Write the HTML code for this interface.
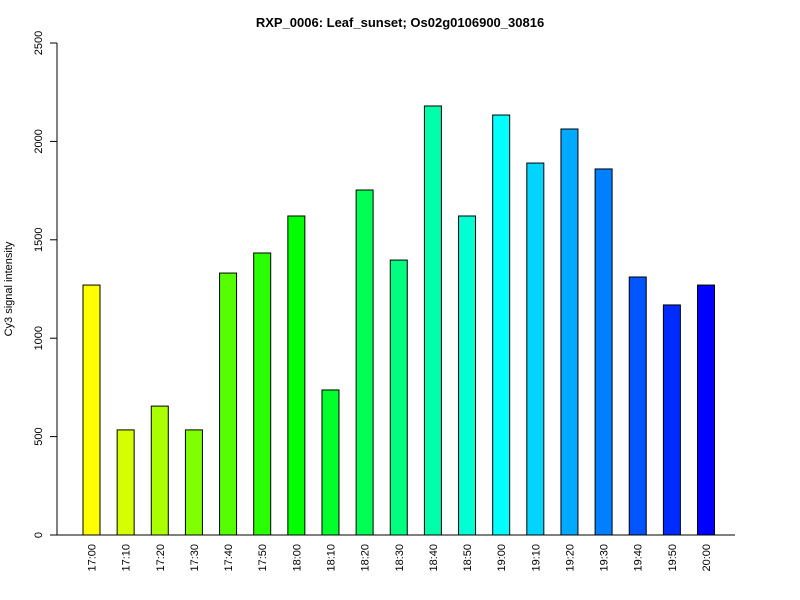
<!DOCTYPE html>
<html><head><meta charset="utf-8"><style>body{margin:0;background:#fff}svg{display:block;font-family:"Liberation Sans",sans-serif}</style></head>
<body>
<svg id="chart" width="800" height="600">
<text x="400" y="27" text-anchor="middle" font-weight="bold" font-size="13">RXP_0006: Leaf_sunset; Os02g0106900_30816</text>
<text transform="translate(12,289) rotate(-90)" text-anchor="middle" font-size="11">Cy3 signal intensity</text>
<g id="plot"></g>
</svg>
<script>
const categories=["17:00","17:10","17:20","17:30","17:40","17:50","18:00","18:10","18:20","18:30","18:40","18:50","19:00","19:10","19:20","19:30","19:40","19:50","20:00"];
const values=[1270,534,655,534,1331,1433,1621,737,1753,1397,2180,1621,2134,1890,2063,1860,1311,1169,1270];
const yTicks=[0,500,1000,1500,2000,2500];
const NS="http://www.w3.org/2000/svg";
const g=document.getElementById('plot');
const y0=535,y1=43,yMax=2500;
const y=v=>y0-(v/yMax)*(y0-y1);
const x=i=>91.5+i*34.14;
function mk(t,a){const e=document.createElementNS(NS,t);for(const k in a)e.setAttribute(k,a[k]);g.appendChild(e);return e;}
let ax=mk('line',{x1:57,x2:57,y1:y(0),y2:y(2500),stroke:'#000'});


let xl=mk('line',{x1:57,x2:735,y1:y0,y2:y0,stroke:'#000'});


yTicks.forEach(v=>{
 const t=mk('line',{x1:50,x2:57,y1:y(v),y2:y(v),stroke:'#000'});
 
 
 const l=mk('text',{transform:`translate(42,${y(v)}) rotate(-90)`,'text-anchor':'middle','font-size':11});
 l.textContent=v;
 
 
});
categories.forEach((c,i)=>{
 const hue=60+i*(180/(categories.length-1));
 const r=mk('rect',{x:x(i)-8.5,y:y(values[i]),width:17,height:y0-y(values[i]),fill:`hsl(${hue},100%,50%)`,stroke:'#000','stroke-width':1});
 
 
 const l=mk('text',{transform:`translate(${x(i)+4},544) rotate(-90)`,'text-anchor':'end','font-size':11});
 l.textContent=c;
 
 
});
</script>
</body></html>
